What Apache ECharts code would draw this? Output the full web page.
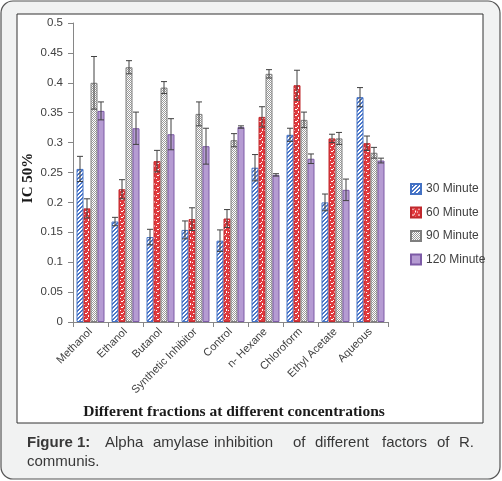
<!DOCTYPE html>
<html><head><meta charset="utf-8">
<script src="https://cdn.jsdelivr.net/npm/echarts@6/dist/echarts.min.js"></script>
<style>html,body{margin:0;padding:0;background:#fff}#c{width:502px;height:481px}</style>
</head><body><div id="c"></div>
<script>
const categories = ['Methanol','Ethanol','Butanol','Synthetic Inhibitor','Control','n- Hexane','Chloroform','Ethyl Acetate','Aqueous'];
const seriesNames = ['30 Minute','60 Minute','90 Minute','120 Minute'];
const min30  = [0.256,0.168,0.142,0.154,0.136,0.258,0.313,0.200,0.376];
const min60  = [0.190,0.222,0.269,0.172,0.173,0.343,0.396,0.307,0.299];
const min90  = [0.400,0.426,0.392,0.348,0.304,0.415,0.338,0.307,0.283];
const min120 = [0.353,0.324,0.314,0.294,0.326,0.246,0.273,0.221,0.270];
const err30  = [0.021,0.007,0.013,0.015,0.018,0.022,0.011,0.014,0.016];
const err60  = [0.016,0.016,0.018,0.019,0.015,0.017,0.025,0.007,0.012];
const err90  = [0.044,0.011,0.010,0.020,0.011,0.007,0.013,0.010,0.009];
const err120 = [0.015,0.027,0.026,0.030,0.002,0.002,0.008,0.018,0.004];
const yTicks = [0,0.05,0.1,0.15,0.2,0.25,0.3,0.35,0.4,0.45,0.5];

const values = [min30,min60,min90,min120];
const errors = [err30,err60,err90,err120];

function pat(w,h,bg,fg,pts){
  const c=document.createElement('canvas');c.width=w;c.height=h;
  const g=c.getContext('2d');g.fillStyle=bg;g.fillRect(0,0,w,h);
  g.fillStyle=fg;pts.forEach(p=>g.fillRect(p[0],p[1],1,1));
  return {image:c,repeat:'repeat'};
}
const bluePat = pat(4,4,'#ffffff','#4a76c8',[[0,3],[1,2],[2,1],[3,0],[0,0],[1,3],[2,2],[3,1]]);
const redPat  = pat(6,6,'#e0393d','#ffffff',[[1,1],[2,1],[4,3],[4,4],[0,4],[3,0]]);
const greyPat = pat(4,4,'#ffffff','#9a9a9a',[[0,0],[2,0],[1,1],[3,1],[0,2],[2,2],[1,3],[3,3]]);
const fills = [bluePat, redPat, greyPat, '#b59bd2'];
const borders = ['#4472c4','#c0282d','#7f7f7f','#7d5ba6'];

const barSeries = seriesNames.map((n,i)=>({
  name:n, type:'bar', data:values[i], barGap:'0%', barCategoryGap:'20%',
  itemStyle:{color:fills[i], borderColor:borders[i], borderWidth:1}
}));
const errSeries = seriesNames.map((n,i)=>({
  type:'custom', name:n+' err', z:5,
  data: values[i].map((v,k)=>[k,v,errors[i][k]]),
  renderItem:function(params,api){
    const ci=api.value(0), v=api.value(1), e=api.value(2);
    const cw=api.size([1,0])[0], bw=cw*0.2, off=(i-1.5)*bw;
    const t=api.coord([ci,v+e]), b=api.coord([ci,v-e]);
    const x=t[0]+off, cap=3;
    const st={stroke:'#404040',lineWidth:1};
    return {type:'group',children:[
      {type:'line',shape:{x1:x,y1:t[1],x2:x,y2:b[1]},style:st},
      {type:'line',shape:{x1:x-cap,y1:t[1],x2:x+cap,y2:t[1]},style:st},
      {type:'line',shape:{x1:x-cap,y1:b[1],x2:x+cap,y2:b[1]},style:st}
    ]};
  }
}));

const capFont='15px "Liberation Sans", Arial, sans-serif';
const capBold='bold 15px "Liberation Sans", Arial, sans-serif';
const capCol='#383838';
const line1=[['Figure',27,capBold],['1:',77,capBold],['Alpha',105,capFont],['amylase',153,capFont],['inhibition',214,capFont],['of',293,capFont],['different',315,capFont],['factors',382,capFont],['of',437,capFont],['R.',459,capFont]];
const capEls = line1.map(w=>({type:'text',z:10,style:{text:w[0],x:w[1],y:443,font:w[2],fill:capCol,verticalAlign:'middle'}}));
capEls.push({type:'text',z:10,style:{text:'communis.',x:27,y:462,font:capFont,fill:capCol,verticalAlign:'middle'}});

const chart=echarts.init(document.getElementById('c'),null,{renderer:'canvas'});
chart.setOption({
  backgroundColor:'#ffffff',
  animation:false,
  graphic:[
    {type:'rect',z:-100,shape:{x:1,y:1,width:499,height:478,r:12},style:{fill:'#f1f2f2',stroke:'#555555',lineWidth:1.2}},
    {type:'rect',z:-99,shape:{x:17,y:14,width:466,height:409},style:{fill:'#ffffff',stroke:'#333333',lineWidth:1}},
    {type:'text',z:10,rotation:Math.PI/2,x:28,y:178,style:{text:'IC 50%',font:'bold 15px "Liberation Serif", "Times New Roman", serif',fill:'#1a1a1a',align:'center',verticalAlign:'middle'}},
    {type:'text',z:10,style:{text:'Different fractions at different concentrations',x:234,y:412,font:'bold 15.5px "Liberation Serif", "Times New Roman", serif',fill:'#1a1a1a',align:'center',verticalAlign:'middle'}}
  ].concat(capEls),
  grid:{left:73,right:114,top:23,bottom:159,containLabel:false},
  legend:{
    data:seriesNames, orient:'vertical', left:405, top:178, itemWidth:10, itemHeight:10, itemGap:11.5,
    textStyle:{fontSize:12,color:'#404040',fontFamily:'"Liberation Sans", Arial, sans-serif'},
    icon:'rect'
  },
  xAxis:{
    type:'category', data:categories,
    axisLine:{lineStyle:{color:'#868686'}},
    axisTick:{show:true,length:5,lineStyle:{color:'#868686'}},
    axisLabel:{rotate:45,fontSize:11,color:'#404040',margin:8,interval:0,fontFamily:'"Liberation Sans", Arial, sans-serif'}
  },
  yAxis:{
    type:'value', min:0, max:0.5, interval:0.05,
    axisLine:{show:true,lineStyle:{color:'#868686'}},
    axisTick:{show:true,length:5,lineStyle:{color:'#868686'}},
    splitLine:{show:false},
    axisLabel:{fontSize:11.5,color:'#404040',margin:10,fontFamily:'"Liberation Sans", Arial, sans-serif',
      formatter:function(v){return yTicks.indexOf(+v.toFixed(2))>=0?String(+v.toFixed(2)):'';}}
  },
  series: barSeries.concat(errSeries)
});
</script></body></html>
